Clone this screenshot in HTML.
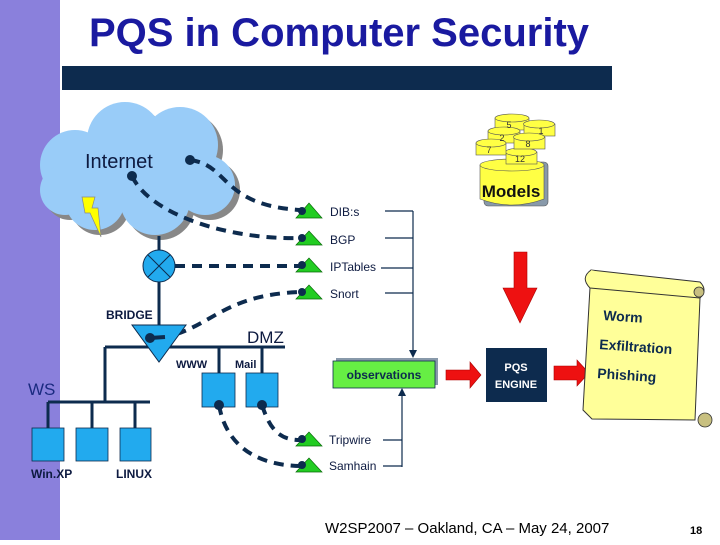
<!DOCTYPE html>
<html><head><meta charset="utf-8"><style>
body{margin:0;width:720px;height:540px;overflow:hidden;background:#fff;font-family:"Liberation Sans",sans-serif}
</style></head><body>
<svg width="720" height="540" viewBox="0 0 720 540" xmlns="http://www.w3.org/2000/svg" font-family="Liberation Sans, sans-serif">
<defs>
<marker id="ah" markerWidth="8" markerHeight="8" refX="4" refY="4" orient="auto" markerUnits="userSpaceOnUse"><path d="M0,0 L8,4 L0,8 z" fill="#0d2b4e"/></marker>
</defs>
<rect x="0" y="0" width="60" height="540" fill="#8a80dc"/>
<text x="339" y="46" text-anchor="middle" font-size="40" font-weight="bold" fill="#1a1aa0">PQS in Computer Security</text>
<rect x="62" y="66" width="550" height="24" fill="#0d2b4e"/>
<!-- cloud -->
<g fill="#888">
<circle cx="80" cy="170" r="35"/><circle cx="130" cy="145" r="38"/><circle cx="185" cy="150" r="38"/><circle cx="210" cy="190" r="30"/><circle cx="160" cy="205" r="35"/><circle cx="100" cy="205" r="30"/><circle cx="70" cy="195" r="25"/>
</g>
<g fill="#99ccf8" transform="translate(-5,-5)">
<circle cx="80" cy="170" r="35"/><circle cx="130" cy="145" r="38"/><circle cx="185" cy="150" r="38"/><circle cx="210" cy="190" r="30"/><circle cx="160" cy="205" r="35"/><circle cx="100" cy="205" r="30"/><circle cx="70" cy="195" r="25"/><rect x="60" y="150" width="160" height="60"/>
</g>
<text x="85" y="168" font-size="20" fill="#0d1a40">Internet</text>
<polygon points="82,197 95,197 92,208 98,208 101,237 90,213 85,213" fill="#ffff00" stroke="#888" stroke-width="0.7"/>
<!-- connectors -->
<g stroke="#0d2b4e" stroke-width="4" fill="none" stroke-dasharray="10,7">
<path d="M190,160 C230,165 220,205 300,210"/>
<path d="M132,176 C150,215 230,240 300,238"/>
<path d="M175,266 L300,266"/>
<path d="M160,338 C210,330 220,295 300,292"/>
<path d="M219,405 C225,440 250,465 300,466"/>
<path d="M262,405 C270,430 280,440 300,440"/>
</g>
<g fill="#0d2b4e">
<circle cx="190" cy="160" r="5"/><circle cx="132" cy="176" r="5"/><circle cx="150" cy="338" r="5"/><circle cx="219" cy="405" r="5"/><circle cx="262" cy="405" r="5"/>
</g>
<!-- green triangles -->
<g fill="#22cc22" stroke="#0a6a0a" stroke-width="0.7">
<polygon points="296,218 309,203 322,218"/><polygon points="296,245 309,231 322,245"/><polygon points="296,272 309,258 322,272"/><polygon points="296,299 309,285 322,299"/><polygon points="296,446 309,432 322,446"/><polygon points="296,472 309,458 322,472"/>
</g>
<g fill="#0d2b4e"><circle cx="302" cy="211" r="4"/><circle cx="302" cy="238" r="4"/><circle cx="302" cy="265" r="4"/><circle cx="302" cy="292" r="4"/><circle cx="302" cy="439" r="4"/><circle cx="302" cy="465" r="4"/></g>
<g font-size="12" fill="#0d1a40">
<text x="330" y="216">DIB:s</text><text x="330" y="244">BGP</text><text x="330" y="271">IPTables</text><text x="330" y="298">Snort</text><text x="329" y="444">Tripwire</text><text x="329" y="470">Samhain</text>
</g>
<g stroke="#0d2b4e" stroke-width="1.2" fill="none">
<path d="M385,211 H413 M385,238 H413 M381,268 H413 M385,293 H413"/>
<path d="M413,211 V354" marker-end="url(#ah)"/>
<path d="M383,440 H402 M383,466 H402 V467 M402,467 V392" marker-end="url(#ah)"/>
</g>
<!-- network -->
<g stroke="#0d2b4e" stroke-width="3" fill="none">
<path d="M159,236 V325"/>
<path d="M105,347 H285 M219,347 V373 M262,347 V373"/>
<path d="M105,347 V402 M48,402 H150 M48,402 V428 M92,402 V428 M135,402 V428"/>
</g>
<circle cx="159" cy="266" r="16" fill="#22aaee" stroke="#0d2b4e" stroke-width="1"/>
<path d="M148,255 L170,277 M170,255 L148,277" stroke="#0d2b4e" stroke-width="1"/>
<polygon points="132,325 186,325 159,362" fill="#22aaee" stroke="#0d2b4e" stroke-width="1"/>
<circle cx="150" cy="338" r="5" fill="#0d2b4e"/>
<path d="M150,338 L165,337" stroke="#0d2b4e" stroke-width="4"/>
<g fill="#22aaee" stroke="#0d2b4e" stroke-width="0.8">
<rect x="202" y="373" width="33" height="34"/><rect x="246" y="373" width="32" height="34"/>
<rect x="32" y="428" width="32" height="33"/><rect x="76" y="428" width="32" height="33"/><rect x="120" y="428" width="31" height="33"/>
</g>
<circle cx="219" cy="405" r="5" fill="#0d2b4e"/><circle cx="262" cy="405" r="5" fill="#0d2b4e"/>
<text x="106" y="319" font-size="12" font-weight="bold" fill="#0d1a40">BRIDGE</text>
<text x="247" y="343" font-size="17" fill="#0d1a40">DMZ</text>
<text x="176" y="368" font-size="11" font-weight="bold" fill="#0d1a40">WWW</text>
<text x="235" y="368" font-size="11" font-weight="bold" fill="#0d1a40">Mail</text>
<text x="28" y="395" font-size="17" fill="#1a2a80">WS</text>
<text x="31" y="478" font-size="12" font-weight="bold" fill="#0d1a40">Win.XP</text>
<text x="116" y="478" font-size="12" font-weight="bold" fill="#0d1a40">LINUX</text>
<!-- observations -->
<rect x="336" y="358" width="102" height="27" fill="#8899aa"/>
<rect x="333" y="361" width="102" height="27" fill="#66ee44" stroke="#0d2b4e" stroke-width="0.8"/>
<text x="384" y="379" text-anchor="middle" font-size="12" font-weight="bold" fill="#0d2b4e">observations</text>
<!-- red arrows -->
<polygon points="446,370 470,370 470,362 481,375 470,388 470,380 446,380" fill="#ee1111" stroke="#a00" stroke-width="0.6"/>
<polygon points="554,366 577,366 577,360 589,373 577,386 577,380 554,380" fill="#ee1111" stroke="#a00" stroke-width="0.6"/>
<polygon points="514,252 527,252 527,288 537,288 520,323 503,288 514,288" fill="#ee1111" stroke="#a00" stroke-width="0.6"/>
<rect x="486" y="348" width="61" height="54" fill="#0d2b4e"/>
<text x="516" y="371" text-anchor="middle" font-size="11" font-weight="bold" fill="#fff">PQS</text>
<text x="516" y="388" text-anchor="middle" font-size="11" font-weight="bold" fill="#fff">ENGINE</text>
<!-- scroll -->
<path d="M591,270 L700,282 Q708,290 700,298 L695,420 L592,419 L583,410 Z" fill="#ffff99" stroke="#333" stroke-width="1"/>
<path d="M591,270 Q580,278 590,288 L700,298" fill="#ffff99" stroke="#333" stroke-width="1"/>
<circle cx="699" cy="292" r="5" fill="#c8c080" stroke="#333" stroke-width="0.8"/>
<circle cx="705" cy="420" r="7" fill="#c8c080" stroke="#333" stroke-width="0.8"/>
<g font-size="14" font-weight="bold" fill="#0d2b4e">
<text x="603" y="320" transform="rotate(4 603 320)">Worm</text>
<text x="599" y="349" transform="rotate(4 599 349)">Exfiltration</text>
<text x="597" y="378" transform="rotate(4 597 378)">Phishing</text>
</g>
<text x="325" y="533" font-size="15" fill="#000">W2SP2007 – Oakland, CA – May 24, 2007</text>
<text x="690" y="534" font-size="11" font-weight="bold" fill="#000">18</text>
<!-- models -->
<g stroke="#555" stroke-width="0.6" fill="#ffff44">
<rect x="484" y="162" width="64" height="44" rx="4" fill="#8899aa"/>
<path d="M480,165 V199 Q512,211 544,199 V165 Z"/>
<ellipse cx="512" cy="165" rx="32" ry="6"/>
<rect x="506" y="152" width="31" height="12"/><ellipse cx="521" cy="152" rx="15.5" ry="4"/>
<rect x="495" y="118" width="34" height="12"/><ellipse cx="512" cy="118" rx="17" ry="4"/>
<rect x="524" y="124" width="31" height="12"/><ellipse cx="539" cy="124" rx="15.5" ry="4"/>
<rect x="488" y="131" width="32" height="12"/><ellipse cx="504" cy="131" rx="16" ry="4"/>
<rect x="514" y="137" width="31" height="12"/><ellipse cx="529" cy="137" rx="15.5" ry="4"/>
<rect x="476" y="143" width="30" height="12"/><ellipse cx="491" cy="143" rx="15" ry="4"/>
</g>
<g font-size="9" fill="#333" text-anchor="middle">
<text x="509" y="128">5</text><text x="541" y="134">1</text><text x="502" y="141">2</text><text x="528" y="147">8</text><text x="489" y="153">7</text><text x="520" y="162">12</text>
</g>
<text x="511" y="197" text-anchor="middle" font-size="17" font-weight="bold" fill="#111">Models</text>
</svg>
</body></html>
